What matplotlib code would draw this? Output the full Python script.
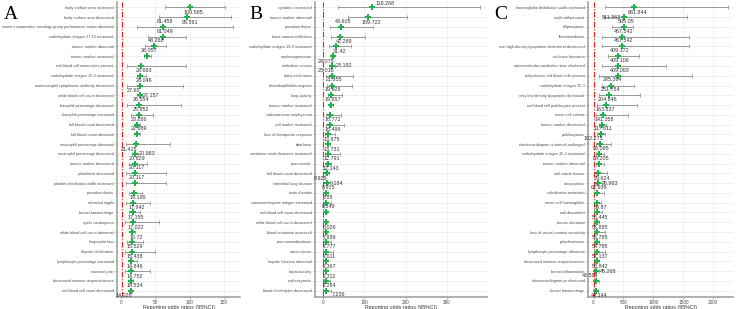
"""
Forest plots of reporting odds ratios (95%CI), three panels A/B/C.
"""
import numpy as np
import matplotlib
matplotlib.use('Agg')
import matplotlib.pyplot as plt

plt.rcParams['font.family'] = ['Liberation Sans', 'DejaVu Sans']

# ---- Panel A ----
terms_a = [
    'body surface area increased', 'body surface area decreased',
    'eastern cooperative oncology group performance status abnormal',
    'carbohydrate antigen 27.29 increased', 'tumour marker abnormal', 'tumour marker increased',
    'red blood cell macrocytes present', 'carbohydrate antigen 15-3 increased',
    'antineutrophil cytoplasmic antibody decreased', 'white blood cell count decreased',
    'basophil percentage decreased', 'basophil percentage increased', 'full blood count decreased',
    'full blood count abnormal', 'neutrophil percentage abnormal', 'neutrophil percentage decreased',
    'tumour marker decreased', 'plateletcrit decreased', 'platelet distribution width increased',
    'pseudocirrhosis', 'retracted nipple', 'breast haemorrhage', 'cyclic neutropenia',
    'white blood cell count abnormal', 'fingerprint loss', 'thyroid calcification',
    'lymphocyte percentage increased', 'mucosal pain', 'decreased immune responsiveness',
    'red blood cell count decreased',
]
ror_a = [100.585, 95.561, 61.458, 61.049, 48.268, 38.057, 28.683, 28.046, 27.65, 27.157,
         26.554, 25.852, 23.886, 22.689, 21.415, 20.983, 20.829, 20.117, 20.117, 19.196,
         17.942, 17.155, 17.022, 16.72, 15.529, 15.438, 14.846, 14.752, 14.534, 14.026]
lo_a = [64, 55, 23, 39, 35, 33, 8.7, 23, 8.7, 24, 9, 14.5, 20, 19, 7.2, 15.5, 12, 6.7, 6.7, 12,
        8, 12, 6, 14, 9, 5.3, 13, 6, 11, 12]
hi_a = [152, 160, 163, 95, 66, 43, 95, 36, 91, 31, 87, 46, 28, 27, 71, 25, 38, 66, 66, 31,
        42, 28, 55, 20, 32, 49, 23.5, 42, 18, 16]
place_a = ['b', 'b', 'a', 'a', 'a', 'a', 'b', 'b', 'bl', 'r', 'a', 'a', 'a', 'a', 'bl', 'r',
           'a', 'a', 'a', 'b', 'b', 'b', 'b', 'b', 'b', 'b', 'b', 'b', 'b', 'bl']

# ---- Panel B ----
terms_b = [
    'cystatin c increased', 'tumour marker abnormal', 'pseudocirrhosis', 'bone marrow infiltration',
    'carbohydrate antigen 19-9 increased', 'myelosuppression', 'embolism venous',
    'dairy intolerance', 'thrombophlebitis migrans', 'lung opacity', 'tumour marker increased',
    'subcutaneous emphysema', 'cell marker increased', 'loss of therapeutic response', 'diarrhoea',
    'creatinine renal clearance increased', 'pneumonitis', 'full blood count decreased',
    'interstitial lung disease', 'taste disorder', 'carcinoembryonic antigen increased',
    'red blood cell count decreased', 'white blood cell count decreased',
    'blood creatinine increased', 'pneumomediastinum', 'macrocytosis',
    'hepatic function abnormal', 'hepatotoxicity', 'erythrocytosis',
    'blood electrolytes decreased',
]
ror_b = [118.268, 109.722, 43.605, 42.289, 31.42, 24.075, 23.192, 23.016, 21.855, 19.928,
         19.657, 16.772, 16.496, 13.875, 13.731, 12.791, 12.143, 9.929, 9.184, 8.915,
         8.88, 8.349, 8.026, 7.889, 7.777, 7.611, 7.367, 7.312, 7.284, 7.236]
lo_b = [38, 62, 17.7, 19.4, 15.3, 20, 17.7, 8.9, 9.7, 13.7, 16, 7.3, 7.3, 5.6, 11, 5.6, 7, 6,
        7, 6, 5.6, 6, 6, 6, 5.6, 5.6, 6, 6, 4, 5.6]
hi_b = [379, 203, 121, 103, 68, 28, 30, 74, 70, 46, 24, 43, 52, 30, 17, 42, 19, 15, 12, 12,
        21, 11, 10, 10, 21, 26, 9, 9, 18, 21]
place_b = ['ar', 'b', 'a', 'b', 'b', 'bl', 'r', 'al', 'a', 'a', 'a', 'b', 'b', 'b', 'b', 'b',
           'b', 'bl', 'r', 'a', 'a', 'a', 'b', 'b', 'b', 'b', 'b', 'b', 'b', 'br']

# ---- Panel C ----
terms_c = [
    'haemoglobin distribution width increased', 'erythroblast count', 'elliptocytosis',
    'thrombasthenia', 'non-high-density lipoprotein cholesterol decreased', 'rouleaux formation',
    'atrioventricular conduction time shortened', 'polychromic red blood cells present',
    'carbohydrate antigen 15-3', 'very low density lipoprotein decreased',
    'red blood cell poikilocytes present', 'mean cell volume', 'tumour marker decreased',
    'poikilocytosis', 'electrocardiogram rr interval prolonged',
    'carbohydrate antigen 15-3 increased', 'tumour marker abnormal', 'nail cuticle fissure',
    'anisocytosis', 'calcification metastatic', 'mean cell haemoglobin', 'nail discomfort',
    'breast ulceration', 'loss of visual contrast sensitivity', 'polychromasia',
    'lymphocyte percentage abnormal', 'decreased immune responsiveness', 'breast inflammation',
    'electrocardiogram pr shortened', 'breast haemorrhage',
]
ror_c = [681.844, 511.363, 505.05, 467.542, 467.542, 409.172, 409.106, 409.093, 285.364,
         251.754, 204.846, 163.837, 141.358, 117.611, 102.275, 93.095, 84.205, 79.624,
         76.963, 62.939, 59.87, 56.445, 55.885, 55.785, 54.785, 51.137, 50.842, 45.268,
         43.584, 40.144]
lo_c = [200, 183, 311, 144, 144, 238, 144, 100, 144, 89, 55, 45, 89, 55, 45, 45, 45, 45, 35,
        35, 35, 35, 25, 25, 25, 25, 25, 25, 25, 15]
hi_c = [2240, 1567, 655, 1600, 1600, 755, 1207, 1640, 683, 783, 728, 572, 211, 200, 294, 167,
        167, 233, 140, 167, 130, 140, 100, 200, 100, 189, 90, 100, 100, 80]
place_c = ['b', 'l', 'a', 'a', 'a', 'a', 'a', 'a', 'a', 'a', 'a', 'a', 'a', 'a', 'al', 'a',
           'a', 'b', 'r', 'a', 'b', 'b', 'b', 'b', 'b', 'b', 'b', 'r', 'al', 'b']

W, H = 736, 309
GREEN = '#22B14C'

# label offsets in points for each placement code
OFFS = {
    'a': (1.5, 2.2, 'center', 'bottom'),
    'b': (2.5, -1.8, 'center', 'top'),
    'r': (2.5, 0.0, 'left', 'center'),
    'l': (-2.5, 0.0, 'right', 'center'),
    'bl': (-4.5, -1.8, 'center', 'top'),
    'al': (-4.5, 2.2, 'center', 'bottom'),
    'ar': (10, 1.2, 'center', 'bottom'),
    'br': (9, -0.8, 'center', 'top'),
}


def forest(ax, terms, ror, lo, hi, place, xlim, ticks):
    n = len(terms)
    y = np.arange(n)[::-1]
    ror = np.array(ror); lo = np.array(lo); hi = np.array(hi)
    ax.set_xlim(*xlim)
    ax.set_ylim(-0.6, n - 0.4)
    ax.set_xticks(ticks)
    ax.set_yticks(y)
    ax.set_yticklabels(terms, fontsize=2.75, color='#4D4D4D')
    ax.tick_params(axis='y', length=1.5, width=0.5, color='#999999', pad=0.8)
    ax.tick_params(axis='x', length=1.5, width=0.5, color='#999999', labelsize=3.4,
                   labelcolor='#4D4D4D', pad=0.8)
    for s in ('top', 'right'):
        ax.spines[s].set_visible(False)
    for s in ('left', 'bottom'):
        ax.spines[s].set_color('#9a9a9a')
        ax.spines[s].set_linewidth(1.1)
    ax.grid(True, color='#EBEBEB', linewidth=0.5)
    ax.set_axisbelow(True)
    ax.axvline(1, color='#FF1A1A', linestyle=(0, (5, 1.5, 1, 1.5)), linewidth=0.8, zorder=2)
    ax.errorbar(ror, y, xerr=[ror - lo, hi - ror], fmt='none', ecolor='#8a8a8a',
                elinewidth=0.6, capsize=1.3, capthick=0.5, zorder=3)
    ax.plot(ror, y, 'P', color=GREEN, markersize=4.0, markeredgewidth=0, zorder=4)
    for v, yy, p in zip(ror, y, place):
        dx, dy, ha, va = OFFS[p]
        ax.annotate(f'{v:g}', (v, yy), xytext=(dx, dy), textcoords='offset points',
                    fontsize=3.9, color='#333333', ha=ha, va=va, zorder=5)
    ax.set_xlabel('Reporting odds ratios (95%CI)', fontsize=3.8, color='#333333', labelpad=0.5)


fig = plt.figure(figsize=(W / 100, H / 100), dpi=100)
bot = (H - 296.5) / H
hgt = (296.5 - 1.5) / H

ax_a = fig.add_axes([117 / W, bot, (240 - 117) / W, hgt])
forest(ax_a, terms_a, ror_a, lo_a, hi_a, place_a, (-5.8, 173.3), [0, 50, 100, 150])

ax_b = fig.add_axes([315 / W, bot, (486.7 - 315) / W, hgt])
forest(ax_b, terms_b, ror_b, lo_b, hi_b, place_b, (-18.6, 395.8), [0, 100, 200, 300])

ax_c = fig.add_axes([588 / W, bot, (733.3 - 588) / W, hgt])
forest(ax_c, terms_c, ror_c, lo_c, hi_c, place_c, (-92, 2334), [0, 500, 1000, 1500, 2000])

for lab, xp in (('A', 4), ('B', 249), ('C', 494)):
    fig.text(xp / W, 1 - 6 / H, lab, fontsize=14, family='Liberation Serif', va='top', ha='left')

fig.savefig('out.png', dpi=100, facecolor='white')
